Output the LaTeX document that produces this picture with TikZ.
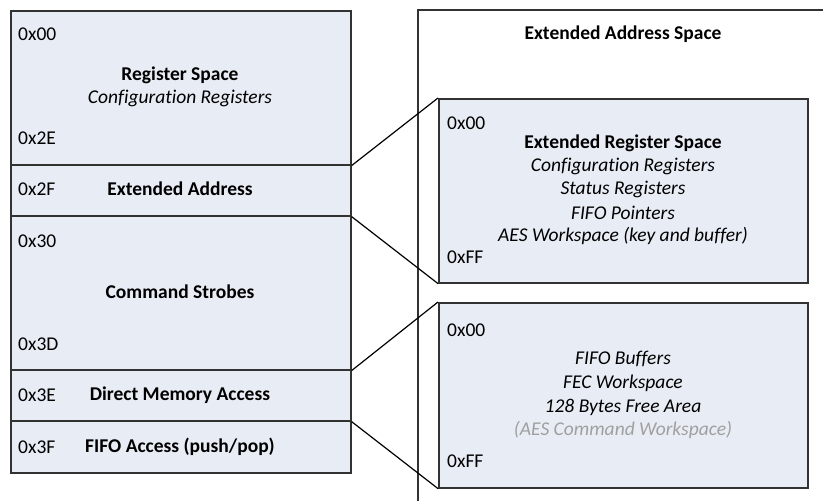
\documentclass[tikz,border=0pt]{standalone}
\usepackage{fontspec}
\setmainfont{Carlito}[Ligatures=NoCommon]
\definecolor{boxfill}{RGB}{232,236,244}
\definecolor{boxline}{RGB}{50,50,50}
\definecolor{greytext}{RGB}{160,160,160}
\begin{document}
\begin{tikzpicture}[x=1pt,y=-1pt,
  mbox/.style={draw=boxline, line width=1.6pt, fill=boxfill, anchor=north west, inner sep=0pt},
  addr/.style={anchor=west, inner sep=0pt, font=\fontsize{19.5}{23}\selectfont},
  ttl/.style={inner sep=0pt, font=\fontsize{19.5}{23}\selectfont\bfseries},
  itl/.style={inner sep=0pt, font=\fontsize{19.5}{23}\selectfont\itshape},
  link/.style={draw=black, line width=1.2pt}]
\useasboundingbox (0,0) rectangle (823,501);
% left column
\node[mbox, minimum width=340pt, minimum height=154pt] (r1) at (10,10) {};
\node[mbox, minimum width=340pt, minimum height=51pt] (r2) at (10,164) {};
\node[mbox, minimum width=340pt, minimum height=154pt] (r3) at (10,215) {};
\node[mbox, minimum width=340pt, minimum height=51pt] (r4) at (10,369) {};
\node[mbox, minimum width=340pt, minimum height=52pt] (r5) at (10,420) {};
\node[addr] (a1) at (18,34) {0x00};
\node[addr] (a2) at (18,138) {0x2E};
\node[ttl] (t1) at (180,75) {Register Space};
\node[itl] (t1b) at (180,98) {Configuration Registers};
\node[addr] (a3) at (18,189) {0x2F};
\node[ttl] (t2) at (180,189) {Extended Address};
\node[addr] (a4) at (18,241) {0x30};
\node[ttl] (t3) at (180,292) {Command Strobes};
\node[addr] (a5) at (18,344) {0x3D};
\node[addr] (a6) at (18,395) {0x3E};
\node[ttl] (t4) at (180,395) {Direct Memory Access};
\node[addr] (a7) at (18,447) {0x3F};
\node[ttl] (t5) at (180,447) {FIFO Access (push/pop)};
% right outer
\draw[draw=boxline, line width=1.4pt] (830,10) -- (418,10) -- (418,510);
\node[ttl] (ext) at (623,34) {Extended Address Space};
% right boxes
\node[mbox, minimum width=369pt, minimum height=184pt] (e1) at (438,98) {};
\node[addr] (b1) at (447,123) {0x00};
\node[ttl] (u1) at (623,143) {Extended Register Space};
\node[itl] (u2) at (623,166) {Configuration Registers};
\node[itl] (u3) at (623,189) {Status Registers};
\node[itl] (u4) at (623,213) {FIFO Pointers};
\node[itl] (u5) at (623,236) {AES Workspace (key and buffer)};
\node[addr] (b2) at (447,257) {0xFF};
\node[mbox, minimum width=369pt, minimum height=185pt] (e2) at (438,302) {};
\node[addr] (b3) at (447,330) {0x00};
\node[itl] (v1) at (623,359) {FIFO Buffers};
\node[itl] (v2) at (623,383) {FEC Workspace};
\node[itl] (v3) at (623,407) {128 Bytes Free Area};
\node[itl, text=greytext] (v4) at (623,430) {(AES Command Workspace)};
\node[addr] (b4) at (447,461) {0xFF};
% connectors
\draw[link] (r1.south east) -- (e1.north west);
\draw[link] (r2.south east) -- (e1.south west);
\draw[link] (r3.south east) -- (e2.north west);
\draw[link] (r4.south east) -- (e2.south west);
\end{tikzpicture}
\end{document}
